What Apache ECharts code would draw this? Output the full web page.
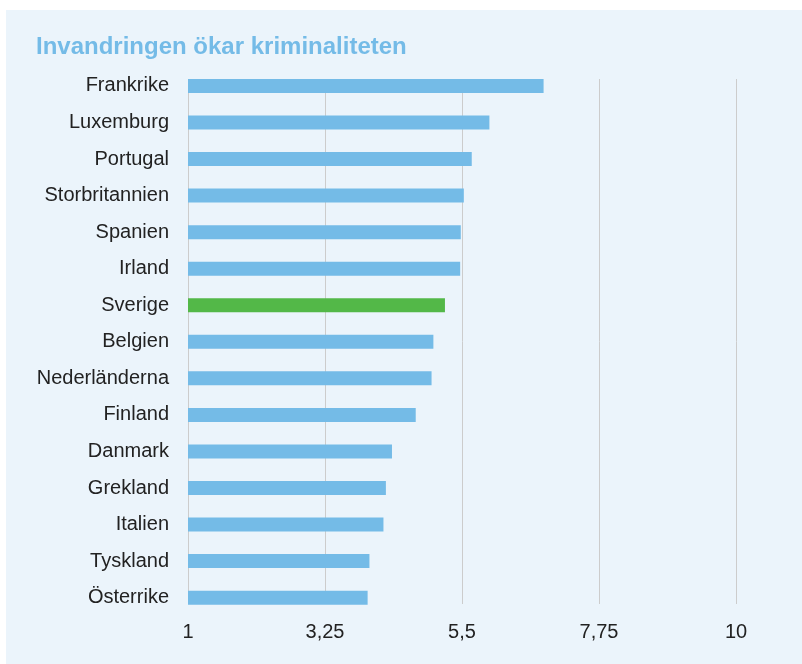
<!DOCTYPE html>
<html>
<head>
<meta charset="utf-8">
<script src="https://cdn.jsdelivr.net/npm/echarts@6/dist/echarts.min.js"></script>
<style>
  html, body { margin: 0; padding: 0; background: #fff; }
  #chart { width: 802px; height: 664px; }
</style>
</head>
<body>
<div id="chart"></div>
<script>
// data
var countries = ['Frankrike', 'Luxemburg', 'Portugal', 'Storbritannien', 'Spanien', 'Irland', 'Sverige',
  'Belgien', 'Nederländerna', 'Finland', 'Danmark', 'Grekland', 'Italien', 'Tyskland', 'Österrike']
var values = [6.84, 5.95, 5.66, 5.53, 5.48, 5.47, 5.22, 5.03, 5.00, 4.74, 4.35, 4.25, 4.21, 3.98, 3.95]
var highlight = 'Sverige'
var axisMin = 1
var axisMax = 10
var axisStep = 2.25

var blue = '#74bbe7'
var green = '#53b848'
var font = '"Liberation Sans", Arial, Helvetica, sans-serif'

var chart = echarts.init(document.getElementById('chart'), null, { renderer: 'canvas' })

var option = {
  backgroundColor: '#ffffff',
  animation: false,
  title: {
    text: 'Invandringen ökar kriminaliteten',
    left: 36,
    top: 35,
    padding: 0,
    textStyle: { color: blue, fontSize: 24, fontWeight: 'bold', fontFamily: font }
  },
  graphic: [{
    type: 'rect',
    z: -10,
    silent: true,
    shape: { x: 6, y: 10, width: 796, height: 654 },
    style: { fill: '#ebf4fb' }
  }],
  grid: [
    // bars
    { left: 188, right: 66, top: 67.7, height: 548.2 },
    // gridlines + tick labels
    { left: 188, right: 66, top: 79, height: 525 }
  ],
  xAxis: [{
    gridIndex: 0,
    type: 'value',
    min: axisMin,
    max: axisMax,
    interval: axisStep,
    show: false
  }, {
    gridIndex: 1,
    type: 'value',
    min: axisMin,
    max: axisMax,
    interval: axisStep,
    axisLine: { show: false },
    axisTick: { show: false },
    splitLine: { show: true, lineStyle: { color: '#cccccc', width: 1 } },
    axisLabel: {
      margin: 18,
      color: '#222',
      fontSize: 20,
      fontFamily: font,
      formatter: function (v) { return String(v).replace('.', ',') }
    }
  }],
  yAxis: [{
    gridIndex: 0,
    type: 'category',
    data: countries,
    inverse: true,
    axisLine: { show: false },
    axisTick: { show: false },
    splitLine: { show: false },
    axisLabel: { margin: 19, padding: [4, 0, 0, 0], color: '#222', fontSize: 20, fontFamily: font }
  }, {
    gridIndex: 1,
    type: 'value',
    min: 0,
    max: 1,
    show: false
  }],
  series: [{
    type: 'bar',
    xAxisIndex: 0,
    yAxisIndex: 0,
    barWidth: 14,
    startValue: axisMin,
    clip: true,
    data: values.map(function (v, i) {
      return {
        value: v,
        itemStyle: { color: countries[i] === highlight ? green : blue }
      }
    })
  }]
}

chart.setOption(option)
</script>
</body>
</html>
